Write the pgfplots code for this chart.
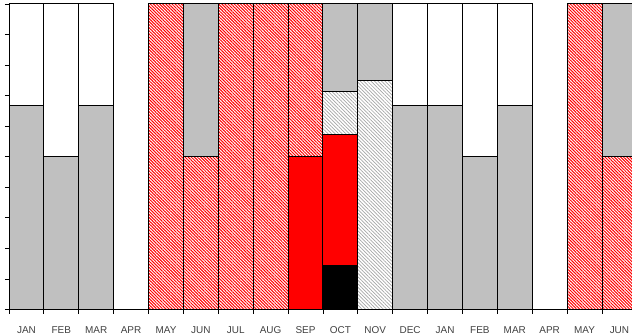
\documentclass[border=0pt]{standalone}
\usepackage{pgfplots}
\pgfplotsset{compat=1.18}
\usepackage{pgfplotstable}
\usepackage{fontspec}
\setmainfont{Liberation Sans}
\usetikzlibrary{patterns.meta}

\definecolor{barsilver}{HTML}{C0C0C0}
\definecolor{labelgray}{HTML}{404040}

% x  black  red  redhatch  grayhatch  gray  white
\pgfplotstableread{
x  k     r     rh  gh    g     w
0  0     0     0   0     6.67  3.33
1  0     0     0   0     5     5
2  0     0     0   0     6.67  3.33
3  0     0     0   0     0     0
4  0     0     10  0     0     0
5  0     0     5   0     5     0
6  0     0     10  0     0     0
7  0     0     10  0     0     0
8  0     5     5   0     0     0
9  1.43  4.29  0   1.42  2.86  0
10 0     0     0   7.48  2.52  0
11 0     0     0   0     6.67  3.33
12 0     0     0   0     6.67  3.33
13 0     0     0   0     5     5
14 0     0     0   0     6.67  3.33
15 0     0     0   0     0     0
16 0     0     10  0     0     0
17 0     0     5   0     5     0
}\months

\begin{document}
\begin{tikzpicture}
\begin{axis}[
    name=ax,
    scale only axis,
    width=623bp, height=305.5bp,
    xmin=-0.5, xmax=17.36,
    ymin=0, ymax=10,
    axis lines=left,
    axis line style={-, black, line width=1bp},
    ybar stacked,
    bar width=1,
    xtick={0,...,17},
    xticklabels={JAN,FEB,MAR,APR,MAY,JUN,JUL,AUG,SEP,OCT,NOV,DEC,JAN,FEB,MAR,APR,MAY,JUN},
    major x tick style={draw=none},
    minor xtick={-0.5,0.5,...,17.5},
    minor tick length=4bp,
    minor x tick style={black, line width=0.8bp},
    xticklabel style={font=\fontsize{10}{12}\selectfont, text=labelgray, yshift=-10bp},
    ytick={0,1,...,10},
    yticklabels={},
    tick align=outside,
    major tick length=4bp,
    major y tick style={black, line width=0.8bp},
    every axis plot/.append style={draw=black, line width=1bp},
]
\addplot[fill=black] table[x=x, y=k] {\months};
\addplot[fill=red] table[x=x, y=r] {\months};
\addplot[pattern={Lines[angle=-45, distance=2.2bp, line width=1bp]}, pattern color=red] table[x=x, y=rh] {\months};
\addplot[pattern={Lines[angle=-45, distance=2.5bp, line width=0.7bp]}, pattern color=gray!70] table[x=x, y=gh] {\months};
\addplot[fill=barsilver] table[x=x, y=g] {\months};
\addplot[fill=white] table[x=x, y=w] {\months};
\end{axis}
\pgfresetboundingbox
\path[use as bounding box] ([shift={(-9bp,-26.5bp)}]ax.south west) rectangle ([shift={(0bp,4bp)}]ax.north east);
\end{tikzpicture}
\end{document}
